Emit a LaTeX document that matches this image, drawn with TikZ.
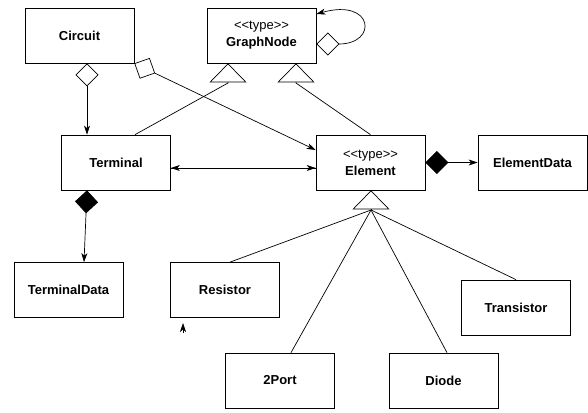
\documentclass[tikz,border=0pt]{standalone}
\usepackage{fontspec}
\setmainfont{Liberation Sans}
\usetikzlibrary{arrows.meta}
\begin{document}
\begin{tikzpicture}[x=1pt,y=-1pt,line width=0.7pt,
  cls/.style={draw,minimum width=109pt,minimum height=55pt,inner sep=0pt,
    align=center,font=\fontsize{13}{17}\selectfont\bfseries},
  stereo/.style={cls,font=\fontsize{13}{17}\selectfont},
  head/.style={-{Stealth[length=9pt,width=6pt,inset=2.5pt]}},
  agg/.style={{Diamond[open,length=23pt,width=23pt]}-{Stealth[length=9pt,width=6pt,inset=2.5pt]}},
  comp/.style={{Diamond[length=23pt,width=23pt]}-{Stealth[length=9pt,width=6pt,inset=2.5pt]}},
  inherit/.style={-{Triangle[open,length=19pt,width=37pt]}}]
  \useasboundingbox (0,0) rectangle (588,412);
  % classes
  \node[cls] (circuit) at (79.5,35.5) {Circuit};
  \node[stereo] (graphnode) at (261.5,35.5) {{<}{<}type{>}{>}\\\textbf{GraphNode}};
  \node[cls] (terminal) at (116,162.5) {Terminal};
  \node[stereo] (element) at (370.5,162.5) {{<}{<}type{>}{>}\\\textbf{Element}};
  \node[cls] (elemdata) at (532.5,162.5) {ElementData};
  \node[cls] (termdata) at (68.5,290) {TerminalData};
  \node[cls] (resistor) at (225,290) {Resistor};
  \node[cls] (transistor) at (516,307.5) {Transistor};
  \node[cls] (twoport) at (280,380.5) {2Port};
  \node[cls] (diode) at (443.5,380.5) {Diode};
  % generalisation bases
  \coordinate (gnleft) at (228,83);
  \coordinate (gnright) at (296,83);
  \coordinate (elbase) at (371,210);
  \coordinate (stray) at (183,333);
  % aggregation / composition
  \draw[agg] ([xshift=7.5pt]circuit.south) -- ([xshift=-29pt]terminal.north);
  \draw[agg] (circuit.south east) -- ([yshift=12.5pt]element.west);
  \draw[agg] ([yshift=-8.5pt]graphnode.east) .. controls (378,44) and (374,-2) .. ([yshift=21.5pt]graphnode.east);
  \draw[comp] ([xshift=-29pt]terminal.south) -- ([xshift=15.5pt]termdata.north);
  \draw[comp] (element.east) -- (elemdata.west);
  \draw[head] ([yshift=-5.5pt]element.west) -- ([yshift=-5.5pt]terminal.east);
  \draw[head] ([yshift=-5.5pt]terminal.east) -- ([yshift=-5.5pt]element.west);
  % inheritance
  \draw[inherit] ([xshift=19pt]terminal.north) -- (gnleft) -- (gnleft |- graphnode.south);
  \draw[inherit] (element.north) -- (gnright) -- (gnright |- graphnode.south);
  \draw[inherit] (elbase) -- (elbase |- element.south);
  \draw ([xshift=5pt]resistor.north) -- (elbase);
  \draw ([xshift=11pt]twoport.north) -- (elbase);
  \draw ([xshift=3.5pt]diode.north) -- (elbase);
  \draw (transistor.north) -- (elbase);
  \draw[head] (stray) -- ++(0,-10);
\end{tikzpicture}
\end{document}
